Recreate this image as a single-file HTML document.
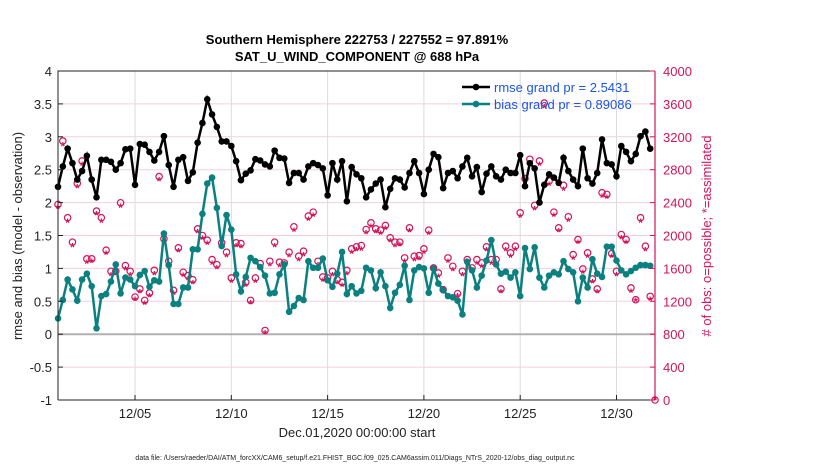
<!DOCTYPE html>
<html><head><meta charset="utf-8"><style>
body{margin:0;background:#fff;}
svg text{font-family:"Liberation Sans",sans-serif;}
</style></head><body>
<svg id="chart" width="830" height="470" xmlns="http://www.w3.org/2000/svg">
<rect width="830" height="470" fill="#fff"/>
<g id="grid"></g><g id="marks"></g><g id="axes"></g>
</svg>
<script>
const rmse=[2.24,2.55,2.82,2.60,2.35,2.48,2.71,2.35,2.08,2.65,2.65,2.62,2.50,2.60,2.81,2.82,2.27,2.89,2.88,2.77,2.64,2.77,3.01,2.57,2.24,2.65,2.69,2.33,2.46,2.91,3.21,3.57,3.34,3.15,2.93,2.93,2.86,2.63,2.34,2.44,2.49,2.66,2.64,2.58,2.55,2.79,2.68,2.67,2.30,2.45,2.45,2.35,2.55,2.60,2.57,2.52,2.11,2.60,2.35,2.63,2.02,2.54,2.43,
2.37,2.08,2.20,2.29,2.35,1.93,2.21,2.37,2.35,2.23,2.45,2.63,2.45,2.13,2.50,2.74,2.69,2.22,2.45,2.48,2.37,2.55,2.68,2.40,2.54,2.16,2.44,2.55,2.40,2.35,2.50,2.45,2.45,2.72,2.25,2.60,2.52,2.00,2.27,2.43,2.38,2.30,2.68,2.48,2.35,2.25,2.82,2.37,2.29,2.45,2.96,2.60,2.58,2.40,2.86,2.77,2.63,2.74,3.01,3.08,2.82];
const bias=[0.24,0.52,0.83,0.68,0.51,0.83,0.92,0.73,0.09,0.58,0.61,0.80,1.06,0.62,0.86,0.83,0.73,0.90,0.96,0.72,0.82,0.80,1.53,1.05,0.46,0.46,0.71,0.71,1.29,1.29,1.83,2.29,2.38,1.92,1.34,1.81,1.59,0.91,0.65,0.87,1.16,1.11,1.02,0.89,0.62,0.63,0.91,1.06,0.34,0.43,0.55,0.52,1.11,1.01,1.01,1.15,0.82,0.72,0.92,1.25,0.61,0.73,0.62,
0.66,1.01,0.97,0.70,0.94,0.73,0.40,0.63,0.75,1.04,0.52,0.97,1.02,1.00,0.63,1.00,0.77,0.67,0.58,0.56,0.51,0.30,1.10,0.97,0.71,0.89,1.12,1.43,1.06,0.92,0.95,0.86,0.94,0.58,1.31,0.99,1.32,0.86,0.71,0.89,0.94,0.91,1.11,0.99,0.94,0.50,0.86,0.71,1.14,0.92,0.87,1.33,1.33,1.12,0.97,0.91,0.96,1.01,1.05,1.05,1.04];
const obsPossible=[2378,3150,2216,1919,2634,2906,1716,1716,2297,2216,1821,1565,1565,2398,1634,1565,1252,1350,1211,1301,1577,2716,1959,1687,1333,1850,1553,1512,1463,2081,2000,1943,1707,1646,1911,1797,1484,1911,1902,1431,1211,1484,1659,845,1687,1919,1675,1667,1797,2106,1748,1809,2236,2284,1687,1496,1484,1565,1463,1431,1577,1838,1862,
1878,2073,2154,2081,2065,2122,1972,1919,1919,1728,2093,1748,1756,1838,2065,1606,1545,1341,1728,1626,1293,1565,1707,1606,1707,1667,1862,1707,1707,1350,1870,1789,1870,2276,2691,2927,2366,2906,3610,2663,2284,2093,2610,2228,1768,1951,1593,1789,1472,1350,2520,2500,1780,1565,2012,1951,1362,1220,2216,1870,1260,0];
const obsUsed=[2330,3090,2160,1860,2580,2850,1660,1670,2250,2160,1770,1510,1520,2340,1580,1510,1210,1300,1160,1250,1520,2660,1900,1630,1280,1800,1500,1460,1410,2030,1950,1890,1650,1590,1860,1740,1430,1860,1850,1380,1170,1430,1600,800,1630,1860,1620,1610,1740,2050,1690,1750,2180,2230,1630,1440,1430,1510,1410,1380,1520,1780,1810,
1820,2020,2100,2030,2010,2070,1920,1860,1870,1670,2040,1690,1700,1780,2010,1550,1490,1300,1670,1570,1250,1510,1650,1550,1650,1610,1810,1650,1650,1300,1810,1730,1820,2220,2630,2870,2310,2850,3550,2610,2230,2040,2550,2170,1710,1900,1540,1730,1420,1300,2460,2450,1730,1510,1960,1900,1310,1200,2160,1810,1210,0];
const yTicks=[-1,-0.5,0,0.5,1,1.5,2,2.5,3,3.5,4];
const yTickLabels=["-1","-0.5","0","0.5","1","1.5","2","2.5","3","3.5","4"];
const y2Ticks=[0,400,800,1200,1600,2000,2400,2800,3200,3600,4000];
const xTickDays=[4,9,14,19,24,29];
const xTickLabels=["12/05","12/10","12/15","12/20","12/25","12/30"];

const NS="http://www.w3.org/2000/svg";
const L=58,R=655,T=71,B=400;
const xs=d=>L+(R-L)*d/31;
const ys=v=>B-(B-T)*(v+1)/5;
const ys2=c=>B-(B-T)*c/4000;
const MAG="#d4145a";
function mk(tag,attrs,parent,txt){const e=document.createElementNS(NS,tag);for(const k in attrs)e.setAttribute(k,attrs[k]);if(txt!==undefined)e.textContent=txt;parent.appendChild(e);return e;}
const grid=document.getElementById('grid'),marks=document.getElementById('marks'),axes=document.getElementById('axes'),svg=document.getElementById('chart');

yTicks.forEach(v=>{if(v===0||v===4||v===-1)return;const g=mk('line',{x1:L,x2:R,y1:ys(v),y2:ys(v),stroke:'#f3cfe0','stroke-width':1},grid);

});
xTickDays.forEach(d=>{const g=mk('line',{x1:xs(d),x2:xs(d),y1:T,y2:B,stroke:'#dcdcdc','stroke-width':1},grid);

});
const zl=mk('line',{x1:L,x2:R,y1:ys(0),y2:ys(0),stroke:'#b0b0b0','stroke-width':2},grid);



// obs markers
obsPossible.forEach((c,i)=>{const x=xs(i*0.25),y=ys2(c);
const e=mk('circle',{cx:x,cy:y,r:3.2,fill:'none',stroke:MAG,'stroke-width':1.2},marks);

});
obsUsed.forEach((c,i)=>{const x=xs(i*0.25),y=ys2(c);
const e=mk('text',{x:x,y:y+4.5,'text-anchor':'middle','font-size':12,fill:MAG,'font-weight':'bold'},marks,'*');

});

function series(arr,color,name){
const pts=arr.map((v,i)=>xs(i*0.25)+','+ys(v)).join(' ');
const pl=mk('polyline',{points:pts,fill:'none',stroke:color,'stroke-width':2.5},marks);


arr.forEach((v,i)=>{const c=mk('circle',{cx:xs(i*0.25),cy:ys(v),r:3.3,fill:color},marks);

});}
series(bias,'#0a8080','bias');
series(rmse,'#000','rmse');

// axes
const box=mk('path',{d:`M${L},${B}V${T}H${R}`,fill:'none',stroke:'#222','stroke-width':1},axes);


const bx=mk('line',{x1:L,x2:R,y1:B,y2:B,stroke:'#222'},axes);


const ry=mk('line',{x1:R,x2:R,y1:T,y2:B,stroke:MAG,'stroke-width':1.2},axes);


yTicks.forEach((v,i)=>{mk('line',{x1:L,x2:L+5,y1:ys(v),y2:ys(v),stroke:'#222'},axes);
const t=mk('text',{x:L-6,y:ys(v)+5,'text-anchor':'end','font-size':13,fill:'#222'},axes,yTickLabels[i]);

});
y2Ticks.forEach(c=>{mk('line',{x1:R-5,x2:R,y1:ys2(c),y2:ys2(c),stroke:MAG},axes);
const t=mk('text',{x:R+8,y:ys2(c)+5,'font-size':13,fill:MAG},axes,String(c));

});
xTickDays.forEach((d,i)=>{mk('line',{x1:xs(d),x2:xs(d),y1:B,y2:B-5,stroke:'#222'},axes);
const t=mk('text',{x:xs(d),y:B+18,'text-anchor':'middle','font-size':13,fill:'#222'},axes,xTickLabels[i]);

});

// legend
[[rmse,'#000','rmse grand pr = 2.5431',87],[bias,'#0a8080','bias grand pr = 0.89086',104]].forEach(([a,col,txt,y],k)=>{
mk('line',{x1:462,x2:490,y1:y,y2:y,stroke:col,'stroke-width':2.5},axes);
mk('circle',{cx:476,cy:y,r:3.3,fill:col},axes);
const t=mk('text',{x:494,y:y+5,'font-size':13,fill:'#1a55e8'},axes,txt);

});
</script>
<svg width="830" height="470" style="position:absolute;left:0;top:0" xmlns="http://www.w3.org/2000/svg">
<text x="357" y="44" text-anchor="middle" font-size="13" font-weight="bold" font-family="Liberation Sans, sans-serif">Southern Hemisphere 222753 / 227552 = 97.891%</text>
<text x="357" y="61" text-anchor="middle" font-size="13" font-weight="bold" font-family="Liberation Sans, sans-serif">SAT_U_WIND_COMPONENT @ 688 hPa</text>
<text transform="translate(22,236) rotate(-90)" text-anchor="middle" font-size="13" fill="#222" font-family="Liberation Sans, sans-serif">rmse and bias (model - observation)</text>
<text transform="translate(711,236) rotate(-90)" text-anchor="middle" font-size="13" fill="#d4145a" font-family="Liberation Sans, sans-serif"># of obs: o=possible; *=assimilated</text>
<text x="357" y="437" text-anchor="middle" font-size="13" fill="#222" font-family="Liberation Sans, sans-serif">Dec.01,2020 00:00:00 start</text>
<text x="355" y="460" text-anchor="middle" font-size="7" fill="#222" font-family="Liberation Sans, sans-serif">data file: /Users/raeder/DAI/ATM_forcXX/CAM6_setup/f.e21.FHIST_BGC.f09_025.CAM6assim.011/Diags_NTrS_2020-12/obs_diag_output.nc</text>
</svg>
</body></html>
